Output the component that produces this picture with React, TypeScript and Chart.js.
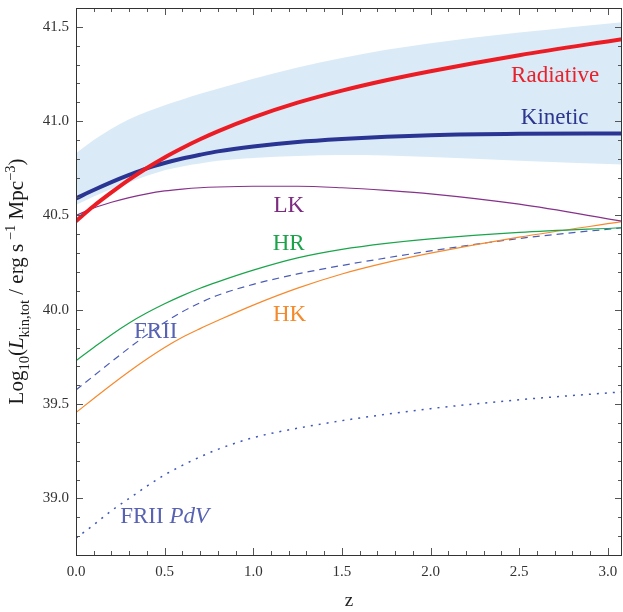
import { useEffect, useRef } from 'react';
import { Chart, registerables } from 'chart.js';

Chart.register(...registerables);

// redshift grid
const zValues = [0, 0.1, 0.2, 0.3, 0.4, 0.5, 0.6, 0.7, 0.8, 1.0, 1.25, 1.5, 1.75, 2.0, 2.5, 3.08];

const radiative = [40.47, 40.55, 40.622, 40.69, 40.752, 40.808, 40.858, 40.904, 40.946, 41.02, 41.098, 41.162, 41.217, 41.265, 41.35, 41.435];
const kinetic = [40.59, 40.635, 40.677, 40.715, 40.75, 40.778, 40.802, 40.822, 40.84, 40.866, 40.89, 40.906, 40.918, 40.926, 40.933, 40.935];
const bandUpper = [40.83, 40.9, 40.96, 41.01, 41.05, 41.085, 41.115, 41.145, 41.172, 41.225, 41.285, 41.335, 41.378, 41.413, 41.47, 41.525];
const bandLower = [40.555, 40.6, 40.64, 40.675, 40.71, 40.74, 40.76, 40.775, 40.79, 40.805, 40.815, 40.82, 40.818, 40.81, 40.79, 40.77];
const lk = [40.5, 40.54, 40.57, 40.595, 40.615, 40.63, 40.64, 40.647, 40.651, 40.655, 40.655, 40.647, 40.633, 40.615, 40.56, 40.47];
const hr = [39.73, 39.8, 39.868, 39.93, 39.984, 40.032, 40.075, 40.114, 40.148, 40.21, 40.275, 40.32, 40.352, 40.376, 40.41, 40.435];
const hk = [39.455, 39.53, 39.603, 39.673, 39.739, 39.8, 39.854, 39.9, 39.943, 40.025, 40.115, 40.19, 40.25, 40.3, 40.385, 40.467];
const frii = [39.575, 39.65, 39.725, 39.798, 39.868, 39.933, 39.99, 40.037, 40.077, 40.135, 40.19, 40.235, 40.275, 40.312, 40.378, 40.435];
const friiPdV = [38.79, 38.86, 38.935, 39.0, 39.065, 39.125, 39.175, 39.22, 39.26, 39.322, 39.372, 39.412, 39.446, 39.476, 39.523, 39.565];

const xTickLabels = [0, 0.5, 1.0, 1.5, 2.0, 2.5, 3.0];
const yTickLabels = [39.0, 39.5, 40.0, 40.5, 41.0, 41.5];

const X_MIN = 0;
const X_MAX = 3.08;
const Y_MIN = 38.7;
const Y_MAX = 41.6;

const FONT = '"Liberation Serif", "Times New Roman", "DejaVu Serif", serif';

type Part = { t: string; italic?: boolean };
const curveLabels: { parts: Part[]; z: number; v: number; color: string }[] = [
  { parts: [{ t: 'Radiative' }], z: 2.703, v: 41.24, color: '#e8212b' },
  { parts: [{ t: 'Kinetic' }], z: 2.7, v: 41.017, color: '#2c3590' },
  { parts: [{ t: 'LK' }], z: 1.2, v: 40.55, color: '#7d2b80' },
  { parts: [{ t: 'HR' }], z: 1.2, v: 40.348, color: '#1ba34a' },
  { parts: [{ t: 'HK' }], z: 1.205, v: 39.971, color: '#f58a2c' },
  { parts: [{ t: 'FRII' }], z: 0.45, v: 39.88, color: '#5862b2' },
  { parts: [{ t: 'FRII ' }, { t: 'PdV', italic: true }], z: 0.5, v: 38.9, color: '#5862b2' },
];

const pts = (vals: number[]) => zValues.map((z, i) => ({ x: z, y: vals[i] }));

const framePlugin = {
  id: 'frameTicks',
  afterDraw(chart: any) {
    const ctx = chart.ctx as CanvasRenderingContext2D;
    const { left, right, top, bottom } = chart.chartArea;
    const xs = chart.scales.x;
    const ys = chart.scales.y;
    ctx.save();
    ctx.strokeStyle = '#555';
    ctx.lineWidth = 1;
    for (let i = 0; i <= 30; i++) {
      const z = i / 10;
      const px = Math.round(xs.getPixelForValue(z)) + 0.5;
      const len = i % 5 === 0 ? 7 : 4;
      ctx.beginPath();
      ctx.moveTo(px, bottom);
      ctx.lineTo(px, bottom - len);
      ctx.moveTo(px, top);
      ctx.lineTo(px, top + len);
      ctx.stroke();
    }
    for (let i = 388; i <= 415; i++) {
      const v = i / 10;
      const py = Math.round(ys.getPixelForValue(v)) + 0.5;
      const len = i % 5 === 0 ? 7 : 4;
      ctx.beginPath();
      ctx.moveTo(left, py);
      ctx.lineTo(left + len, py);
      ctx.moveTo(right, py);
      ctx.lineTo(right - len, py);
      ctx.stroke();
    }
    ctx.strokeStyle = '#333';
    ctx.strokeRect(Math.round(left) + 0.5, Math.round(top) + 0.5, Math.round(right - left) - 1, Math.round(bottom - top));
    ctx.restore();

    // curve labels
    ctx.save();
    ctx.textBaseline = 'middle';
    ctx.textAlign = 'left';
    for (const lab of curveLabels) {
      const cx = xs.getPixelForValue(lab.z);
      const cy = ys.getPixelForValue(lab.v);
      let total = 0;
      for (const p of lab.parts) {
        ctx.font = `${p.italic ? 'italic ' : ''}23px ${FONT}`;
        total += ctx.measureText(p.t).width;
      }
      let x = cx - total / 2;
      ctx.fillStyle = lab.color;
      for (const p of lab.parts) {
        ctx.font = `${p.italic ? 'italic ' : ''}23px ${FONT}`;
        ctx.fillText(p.t, x, cy);
        x += ctx.measureText(p.t).width;
      }
    }
    ctx.restore();

    // y axis title with sub/superscripts
    const segs: { t: string; size: number; dy: number; italic?: boolean }[] = [
      { t: 'Log', size: 21, dy: 0 },
      { t: '10', size: 14.5, dy: 6 },
      { t: '(', size: 21, dy: 0 },
      { t: 'L', size: 21, dy: 0, italic: true },
      { t: 'kin,tot', size: 14.5, dy: 6 },
      { t: ' / erg s', size: 21, dy: 0 },
      { t: ' \u22121', size: 14.5, dy: -8 },
      { t: ' Mpc', size: 21, dy: 0 },
      { t: '\u22123', size: 14.5, dy: -8 },
      { t: ')', size: 21, dy: 0 },
    ];
    ctx.save();
    const midY = (top + bottom) / 2;
    ctx.translate(23, midY);
    ctx.rotate(-Math.PI / 2);
    ctx.fillStyle = '#1a1a1a';
    ctx.textBaseline = 'alphabetic';
    ctx.textAlign = 'left';
    let tw = 0;
    for (const s of segs) {
      ctx.font = `${s.italic ? 'italic ' : ''}${s.size}px ${FONT}`;
      tw += ctx.measureText(s.t).width;
    }
    let sx = -tw / 2;
    for (const s of segs) {
      ctx.font = `${s.italic ? 'italic ' : ''}${s.size}px ${FONT}`;
      ctx.fillText(s.t, sx, s.dy);
      sx += ctx.measureText(s.t).width;
    }
    ctx.restore();
  },
};

export default function App() {
  const canvasRef = useRef<HTMLCanvasElement | null>(null);

  useEffect(() => {
    const canvas = canvasRef.current;
    if (!canvas) return;
    const thin = { pointRadius: 0, borderWidth: 1.2, fill: false, cubicInterpolationMode: 'monotone' as const };
    const chart = new Chart(canvas, {
      type: 'line',
      data: {
        datasets: [
          { label: 'Radiative', data: pts(radiative), borderColor: '#ec1c24', borderWidth: 4, pointRadius: 0, fill: false, cubicInterpolationMode: 'monotone', order: 1 },
          { label: 'Kinetic', data: pts(kinetic), borderColor: '#2a3593', borderWidth: 4, pointRadius: 0, fill: false, cubicInterpolationMode: 'monotone', order: 1 },
          { label: 'LK', data: pts(lk), borderColor: '#86318a', ...thin, order: 5 },
          { label: 'HR', data: pts(hr), borderColor: '#1aa54b', ...thin, order: 5 },
          { label: 'HK', data: pts(hk), borderColor: '#f7892d', ...thin, order: 5 },
          { label: 'FRII', data: pts(frii), borderColor: '#4a5cb5', ...thin, borderDash: [7, 5], order: 5 },
          { label: 'FRII PdV', data: pts(friiPdV), borderColor: '#3f56b8', ...thin, borderWidth: 1.5, borderDash: [2, 6], order: 5 },
          { label: 'bandUpper', data: pts(bandUpper), borderWidth: 0, borderColor: 'rgba(0,0,0,0)', backgroundColor: '#daebf7', pointRadius: 0, fill: '+1', cubicInterpolationMode: 'monotone', order: 10 },
          { label: 'bandLower', data: pts(bandLower), borderWidth: 0, borderColor: 'rgba(0,0,0,0)', pointRadius: 0, fill: false, cubicInterpolationMode: 'monotone', order: 10 },
        ],
      },
      options: {
        responsive: false,
        maintainAspectRatio: false,
        animation: false,
        layout: { padding: { top: 8, right: 1, left: 0, bottom: 0 } },
        plugins: { legend: { display: false }, tooltip: { enabled: false } },
        scales: {
          x: {
            type: 'linear',
            min: X_MIN,
            max: X_MAX,
            grid: { display: false, drawTicks: false },
            border: { display: false },
            afterBuildTicks: (s: any) => {
              s.ticks = xTickLabels.map((v) => ({ value: v }));
            },
            afterFit: (s: any) => {
              s.height = 57;
              s.paddingLeft = 0;
              s.paddingRight = 0;
            },
            ticks: {
              padding: 8,
              autoSkip: false,
              maxRotation: 0,
              color: '#333',
              font: { family: FONT, size: 15 },
              callback: (v: any) => Number(v).toFixed(1),
            },
            title: { display: true, text: 'z', color: '#222', font: { family: FONT, size: 19 }, padding: 0 },
          },
          y: {
            type: 'linear',
            min: Y_MIN,
            max: Y_MAX,
            grid: { display: false, drawTicks: false },
            border: { display: false },
            afterBuildTicks: (s: any) => {
              s.ticks = yTickLabels.map((v) => ({ value: v }));
            },
            afterFit: (s: any) => {
              s.width = 76;
              s.paddingTop = 0;
              s.paddingBottom = 0;
            },
            ticks: {
              padding: 7,
              autoSkip: false,
              color: '#333',
              font: { family: FONT, size: 15 },
              callback: (v: any) => Number(v).toFixed(1),
            },
          },
        },
      },
      plugins: [framePlugin],
    });
    return () => chart.destroy();
  }, []);

  return (
    <div style={{ position: 'fixed', left: 0, top: 0, width: 623, height: 612, background: '#fff' }}>
      <canvas ref={canvasRef} width={623} height={612} style={{ width: 623, height: 612, display: 'block' }} />
    </div>
  );
}
